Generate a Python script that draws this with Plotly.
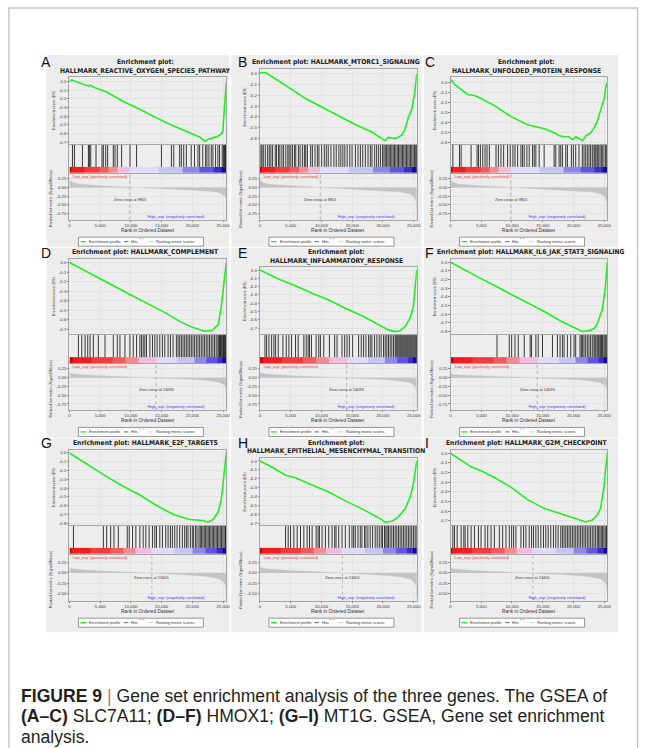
import plotly.graph_objects as go

W, H = 650, 748
N_RANK = 25500

panel_letters = ["A", "B", "C", "D", "E", "F", "G", "H", "I"]
panel_titles = [
    ["Enrichment plot:", "HALLMARK_REACTIVE_OXYGEN_SPECIES_PATHWAY"],
    ["Enrichment plot: HALLMARK_MTORC1_SIGNALING"],
    ["Enrichment plot:", "HALLMARK_UNFOLDED_PROTEIN_RESPONSE"],
    ["Enrichment plot: HALLMARK_COMPLEMENT"],
    ["Enrichment plot:", "HALLMARK_INFLAMMATORY_RESPONSE"],
    ["Enrichment plot: HALLMARK_IL6_JAK_STAT3_SIGNALING"],
    ["Enrichment plot: HALLMARK_E2F_TARGETS"],
    ["Enrichment plot:", "HALLMARK_EPITHELIAL_MESENCHYMAL_TRANSITION"],
    ["Enrichment plot: HALLMARK_G2M_CHECKPOINT"],
]
zero_cross = [9801, 9801, 9801, 14093, 14093, 14093, 13405, 13405, 13405]

x_tick_vals = [0, 5000, 10000, 15000, 20000, 25000]
x_tick_text = ["0", "5,000", "10,000", "15,000", "20,000", "25,000"]
es_tick_vals = [0.0, -0.1, -0.2, -0.3, -0.4, -0.5, -0.6, -0.7, -0.8]
es_tick_text = ["0.0", "-0.1", "-0.2", "-0.3", "-0.4", "-0.5", "-0.6", "-0.7", "-0.8"]
es_tick_count = [8, 7, 7, 8, 8, 9, 9, 8, 8]
rk_tick_vals = [0.25, 0.0, -0.25, -0.5, -0.75]
rk_tick_text = ["0.25", "0.00", "-0.25", "-0.50", "-0.75"]
rk_tick_count = [5, 5, 5, 5, 5, 5, 4, 4, 4]
rk_range_full = [-0.92, 0.39]
rk_range_short = [-0.66, 0.43]

# ---------------- enrichment score curves ----------------
es_x_A = [0, 380, 650, 2270, 3080, 3350, 4160, 6050, 8750, 11450, 14150, 16850, 19550, 21170, 21980, 22790, 23870, 24680, 24950, 25220, 25500]
es_y_A = [0.0, 0.02, 0.01, -0.03, -0.05, -0.04, -0.07, -0.12, -0.23, -0.32, -0.42, -0.51, -0.59, -0.64, -0.69, -0.66, -0.64, -0.61, -0.57, -0.34, 0.0]
es_x_B = [0, 970, 2040, 4730, 7420, 10110, 12800, 15490, 18180, 19800, 20330, 20870, 21950, 22480, 23020, 23560, 24100, 24630, 25170, 25500]
es_y_B = [0.01, 0.01, -0.03, -0.13, -0.23, -0.31, -0.39, -0.47, -0.54, -0.60, -0.62, -0.59, -0.60, -0.59, -0.57, -0.52, -0.41, -0.34, -0.18, 0.0]
es_x_C = [0, 220, 650, 1730, 2810, 3900, 4980, 7140, 9850, 12550, 15260, 16880, 17690, 18500, 19310, 19860, 20400, 20940, 21480, 22020, 22830, 23370, 23910, 24180, 24450, 24990, 25270, 25500]
es_y_C = [0.0, 0.02, -0.02, -0.07, -0.12, -0.13, -0.16, -0.23, -0.34, -0.42, -0.46, -0.50, -0.53, -0.54, -0.54, -0.57, -0.54, -0.56, -0.58, -0.53, -0.50, -0.45, -0.38, -0.32, -0.27, -0.16, -0.04, 0.0]
es_x_D = [0, 2000, 5000, 10000, 15400, 18000, 20000, 22000, 23200, 24200, 24700, 25200, 25500]
es_y_D = [0.0, -0.07, -0.17, -0.34, -0.52, -0.62, -0.68, -0.72, -0.71, -0.65, -0.46, -0.17, 0.0]
es_x_E = [0, 3080, 5780, 8480, 11180, 13880, 16590, 19290, 20900, 21980, 22790, 23600, 24400, 24950, 25220, 25500]
es_y_E = [0.0, -0.11, -0.19, -0.28, -0.36, -0.46, -0.55, -0.66, -0.72, -0.74, -0.73, -0.68, -0.58, -0.44, -0.24, 0.0]
es_x_F = [0, 1730, 4430, 7130, 9830, 12530, 15230, 17930, 20090, 21440, 22520, 23330, 23870, 24680, 25220, 25500]
es_y_F = [0.0, -0.07, -0.17, -0.27, -0.37, -0.47, -0.57, -0.68, -0.75, -0.80, -0.79, -0.77, -0.71, -0.55, -0.27, 0.0]
es_x_G = [0, 650, 3350, 6050, 8750, 11450, 14150, 16850, 19550, 21710, 22520, 23330, 24140, 24680, 25060, 25500]
es_y_G = [0.0, -0.03, -0.15, -0.27, -0.38, -0.48, -0.60, -0.70, -0.76, -0.77, -0.79, -0.76, -0.68, -0.54, -0.30, 0.0]
es_x_H = [0, 2000, 4160, 5780, 8480, 11180, 13880, 16580, 19280, 20360, 21440, 22520, 23600, 24410, 24950, 25500]
es_y_H = [0.0, -0.07, -0.16, -0.19, -0.27, -0.35, -0.45, -0.54, -0.64, -0.69, -0.68, -0.63, -0.54, -0.41, -0.26, 0.0]
es_x_I = [0, 1730, 3350, 4970, 7130, 9830, 12530, 15230, 17930, 20090, 21980, 23060, 23870, 24410, 24950, 25500]
es_y_I = [0.0, -0.07, -0.14, -0.18, -0.25, -0.35, -0.48, -0.57, -0.63, -0.67, -0.71, -0.69, -0.64, -0.57, -0.35, 0.0]

# ---------------- hit positions (rank of each gene-set member) ----------------
hits_A = [490, 810, 2110, 3080, 3240, 3460, 4320, 5290, 5510, 5890, 6210, 7130, 7400, 7780, 8480, 9850, 10910,
          14960, 16580, 16960, 17920, 18200, 18580, 19010, 19800, 20340, 20900, 21170, 21680, 22140, 22360, 22680,
          23060, 23330, 23760, 24140, 24410, 24840, 25060, 25220, 25380, 25460]
hits_B = [160, 320, 540, 860, 1240, 1510, 1780, 2050, 2480, 2700, 3020, 3230, 3560, 3830, 4200, 4530, 4740, 5010,
          5280, 5610, 5820, 6250, 6520, 6900, 7220, 7440, 7710, 8250, 8520, 8950, 9330, 9590, 10030, 10460, 10780,
          11100, 11540, 12020, 12400, 12830, 13150, 13480, 13800, 14180, 14610, 14980, 15520, 15950, 16330, 16710,
          17140, 17570, 17950, 18220, 18650, 18970, 19300, 19620, 19940, 20160, 20370, 20590, 20810, 21020, 21240,
          21450, 21670, 21880, 22100, 22320, 22530, 22750, 22960, 23180, 23390, 23610, 23820, 24040, 24260, 24470,
          24690, 24900, 25120, 25330, 25450]
hits_C = [380, 1460, 1730, 3350, 4320, 4540, 4860, 5240, 5620, 5940, 6320, 7400, 7780, 8210, 8640, 9290, 9720,
          10150, 10480, 10910, 11450, 11720, 11990, 12420, 12800, 13340, 13610, 13880, 14420, 15230, 16850, 17120,
          17660, 17930, 18200, 18740, 19010, 19660, 19980, 20360, 20900, 21440, 21710, 21980, 22250, 22520, 22790,
          23060, 23330, 23490, 23650, 23870, 24030, 24300, 24520, 24680, 24950, 25220, 25420]
hits_D = [1460, 2000, 2540, 2970, 3350, 3890, 4700, 5780, 7130, 7780, 8210, 9020, 9830, 10370, 10910, 11450,
          11720, 11990, 12260, 12530, 13070, 13500, 13880, 14260, 14690, 15120, 15500, 16040, 16420, 16850, 17390,
          17660, 17930, 18200, 18470, 18740, 19010, 19280, 19550, 19820, 20090, 20360, 20630, 20900, 21170, 21440,
          21710, 21980, 22250, 22520, 22790, 23060, 23330, 23600, 23870, 24140, 24300, 24410, 24550, 24680, 24800,
          24950, 25050, 25220, 25350, 25450]
hits_E = [810, 1080, 1460, 1890, 2270, 2540, 2970, 3730, 4270, 4700, 5130, 5780, 6210, 7130, 7510, 7830, 8050,
          8370, 9130, 9560, 9830, 10370, 11290, 12150, 12530, 13340, 13770, 14150, 14530, 15070, 16040, 16470,
          16850, 17230, 17660, 17930, 18200, 18630, 19010, 19390, 19710, 20090, 20360, 20630, 20900, 21170, 21440,
          21710, 21980, 22140, 22300, 22460, 22630, 22790, 22950, 23110, 23270, 23440, 23600, 23760, 23920, 24080,
          24250, 24410, 24570, 24730, 24890, 25060, 25220, 25380, 25470]
hits_F = [7560, 9560, 9940, 10480, 11020, 11990, 12960, 13180, 13880, 14260, 14960, 16580, 17390, 17820, 18200,
          18470, 19010, 19550, 20090, 20360, 21060, 21280, 21490, 21710, 21980, 22250, 22520, 22790, 23060, 23330,
          23490, 23650, 23870, 24030, 24190, 24410, 24570, 24730, 24950, 25110, 25270, 25420]
hits_G = [650, 5510, 6050, 6700, 7240, 7940, 9400, 9720, 10260, 10800, 11450, 11990, 12420, 12960, 13500, 13880,
          14150, 14690, 15120, 15660, 16040, 16420, 16740, 17120, 17500, 17930, 18360, 18740, 19010, 19280, 19660,
          19980, 20200, 20520, 20740, 21060, 21280, 21490, 21710, 21920, 22140, 22360, 22570, 22790, 23000, 23220,
          23440, 23650, 23870, 24080, 24300, 24520, 24730, 24950, 25160, 25380, 25470]
hits_H = [4160, 4590, 4970, 5510, 6050, 6590, 7130, 7670, 8050, 8480, 9130, 9450, 9670, 10100, 10640, 11180,
          11720, 12150, 12370, 12800, 13340, 13880, 14530, 14960, 15230, 15500, 15930, 16310, 16580, 17010, 17230,
          17550, 17930, 18310, 18740, 19060, 19390, 19710, 19930, 20250, 20470, 20680, 20900, 21170, 21440, 21710,
          21980, 22250, 22520, 22790, 23060, 23330, 23600, 23870, 24140, 24410, 24680, 24950, 25220, 25420]
hits_I = [380, 650, 1080, 1730, 2160, 2380, 2810, 3350, 3890, 4540, 4970, 5620, 6050, 6590, 7130, 7940, 8480,
          9020, 9560, 9940, 10260, 10640, 11450, 11880, 12260, 12800, 13180, 13500, 13880, 14260, 14690, 15120,
          15500, 15880, 16310, 16740, 17120, 17500, 17930, 18200, 18470, 18740, 19010, 19280, 19550, 19820, 20090,
          20360, 20630, 20900, 21170, 21440, 21710, 21980, 22250, 22520, 22790, 23060, 23330, 23600, 23870, 24080,
          24300, 24520, 24730, 24950, 25160, 25380, 25460]

# ---------------- ranked list metric (Signal2Noise) ----------------
rk_x_A = [0, 80, 400, 1500, 5000, 9801, 15000, 20000, 23000, 24500, 25200, 25420, 25500]
rk_y_A = [0.30, 0.22, 0.15, 0.10, 0.05, 0.0, -0.04, -0.08, -0.11, -0.16, -0.24, -0.30, -0.38]
rk_x_B = [0, 80, 400, 1500, 5000, 9801, 15000, 20000, 23000, 24500, 25200, 25420, 25500]
rk_y_B = [0.27, 0.20, 0.14, 0.09, 0.05, 0.0, -0.05, -0.09, -0.13, -0.19, -0.28, -0.45, -0.90]
rk_x_C = [0, 80, 400, 1500, 5000, 9801, 15000, 20000, 23000, 24500, 25200, 25420, 25500]
rk_y_C = [0.28, 0.20, 0.14, 0.09, 0.05, 0.0, -0.05, -0.09, -0.13, -0.19, -0.27, -0.42, -0.85]
rk_x_D = [0, 80, 400, 1500, 6000, 14093, 18000, 21000, 23000, 24500, 25200, 25420, 25500]
rk_y_D = [0.16, 0.13, 0.11, 0.09, 0.05, 0.0, -0.03, -0.06, -0.09, -0.14, -0.20, -0.28, -0.45]
rk_x_E = [0, 80, 400, 1500, 6000, 14093, 18000, 21000, 23000, 24500, 25200, 25420, 25500]
rk_y_E = [0.17, 0.14, 0.12, 0.10, 0.05, 0.0, -0.03, -0.06, -0.10, -0.15, -0.22, -0.35, -0.85]
rk_x_F = [0, 80, 400, 1500, 6000, 14093, 18000, 21000, 23000, 24500, 25200, 25420, 25500]
rk_y_F = [0.14, 0.12, 0.10, 0.08, 0.05, 0.0, -0.03, -0.06, -0.10, -0.15, -0.22, -0.35, -0.80]
rk_x_G = [0, 80, 400, 1500, 6000, 13405, 18000, 21000, 23000, 24500, 25200, 25420, 25500]
rk_y_G = [0.15, 0.12, 0.10, 0.08, 0.04, 0.0, -0.04, -0.07, -0.10, -0.15, -0.24, -0.32, -0.55]
rk_x_H = [0, 80, 400, 1500, 6000, 13405, 18000, 21000, 23000, 24500, 25200, 25420, 25500]
rk_y_H = [0.17, 0.13, 0.11, 0.09, 0.05, 0.0, -0.04, -0.07, -0.10, -0.15, -0.24, -0.33, -0.60]
rk_x_I = [0, 80, 400, 1500, 6000, 13405, 18000, 21000, 23000, 24500, 25200, 25420, 25500]
rk_y_I = [0.15, 0.12, 0.10, 0.08, 0.04, 0.0, -0.04, -0.07, -0.10, -0.15, -0.24, -0.32, -0.50]

# colour bar segments (fractions of the positive / negative part of the ranked list)
cb_pos_frac = [0.0, 0.03, 0.25, 0.5, 0.65, 0.8, 1.0]
cb_neg_frac = [0.0, 0.3, 0.55, 0.72, 0.87, 0.95, 1.0]
cb_colors = ["#d00000", "#f01e1e", "#f23c3c", "#f45c5c", "#f58a90", "#f4bcdc",
             "#dedcf8", "#c6c4f2", "#8c88ea", "#5e56de", "#3b2ec8", "#160a8c"]

ES_X = [es_x_A, es_x_B, es_x_C, es_x_D, es_x_E, es_x_F, es_x_G, es_x_H, es_x_I]
ES_Y = [es_y_A, es_y_B, es_y_C, es_y_D, es_y_E, es_y_F, es_y_G, es_y_H, es_y_I]
HITS = [hits_A, hits_B, hits_C, hits_D, hits_E, hits_F, hits_G, hits_H, hits_I]
RK_X = [rk_x_A, rk_x_B, rk_x_C, rk_x_D, rk_x_E, rk_x_F, rk_x_G, rk_x_H, rk_x_I]
RK_Y = [rk_y_A, rk_y_B, rk_y_C, rk_y_D, rk_y_E, rk_y_F, rk_y_G, rk_y_H, rk_y_I]

# ---------------- layout geometry (pixels) ----------------
col_left = [69, 261, 453]
plot_w = 158
row_top = [56, 246.5, 437.5]
letter_x = [38, 237, 425]
title_dx = [-2, -2, -2, -2, -2, 2, -2, -2, -2]
panel_bg = [(46, 230), (232, 424), (426, 622)]
row_bg = [(55, 247), (248, 438), (439, 633)]

GREEN = "#1ff01f"
SMALL = dict(family="Liberation Sans, Arial, sans-serif", size=4.3, color="#333333")
TITLE_FONT = dict(family="Liberation Sans Narrow, DejaVu Sans Condensed, Arial Narrow, sans-serif",
                  size=6.7, color="#1a1a1a")


def X(px):
    return px / W


def Y(py):
    return 1 - py / H


fig = go.Figure()
layout = {}
shapes = []
annotations = []


def axname(i):
    return ("x" if i == 1 else "x%d" % i), ("y" if i == 1 else "y%d" % i)


def lkey(prefix, i):
    return prefix if i == 1 else "%s%d" % (prefix, i)


base_ax = dict(showline=True, mirror=True, linecolor="#a6a6a6", linewidth=0.6, zeroline=False,
               showgrid=False, fixedrange=True, tickfont=SMALL, ticks="")

for r in range(3):
    for c in range(3):
        shapes.append(dict(type="rect", xref="paper", yref="paper", layer="below",
                           x0=X(panel_bg[c][0]), x1=X(panel_bg[c][1]),
                           y0=Y(row_bg[r][1]), y1=Y(row_bg[r][0]),
                           fillcolor="#ededed", line=dict(width=0)))

for p in range(9):
    r, c = divmod(p, 3)
    L = col_left[c]
    R = L + plot_w
    T = row_top[r]
    two = len(panel_titles[p]) == 2
    es_top = T + (21 if two else 13)
    es_bot = T + 88
    hit_top, hit_bot = T + 89, T + 117
    rk_top, rk_bot = T + 118, T + 164
    Z = zero_cross[p]
    short = rk_tick_count[p] == 4
    rk_range = rk_range_short if short else rk_range_full

    i_es, i_hit, i_rk = 3 * p + 1, 3 * p + 2, 3 * p + 3
    xe, ye = axname(i_es)
    xh, yh = axname(i_hit)
    xr, yr = axname(i_rk)

    esy = ES_Y[p]
    es_lo = min(esy) - 0.03
    es_hi = max(max(esy), 0) + 0.035

    layout[lkey("xaxis", i_es)] = dict(base_ax, domain=[X(L), X(R)], range=[0, N_RANK], anchor=ye,
                                       tickvals=x_tick_vals, showticklabels=False, showgrid=True,
                                       gridcolor="#e3e3e3", gridwidth=0.5)
    n_es = es_tick_count[p]
    layout[lkey("yaxis", i_es)] = dict(base_ax, domain=[Y(es_bot), Y(es_top)], range=[es_lo, es_hi], anchor=xe,
                                       tickvals=es_tick_vals[:n_es], ticktext=es_tick_text[:n_es],
                                       showgrid=True, gridcolor="#e3e3e3", gridwidth=0.5,
                                       ticks="outside", ticklen=1.5, tickcolor="#888", tickwidth=0.5)
    layout[lkey("xaxis", i_hit)] = dict(base_ax, domain=[X(L), X(R)], range=[0, N_RANK], anchor=yh,
                                        showticklabels=False)
    layout[lkey("yaxis", i_hit)] = dict(base_ax, domain=[Y(hit_bot), Y(hit_top)], range=[0, 1], anchor=xh,
                                        showticklabels=False)
    n_rk = rk_tick_count[p]
    layout[lkey("xaxis", i_rk)] = dict(base_ax, domain=[X(L), X(R)], range=[0, N_RANK], anchor=yr,
                                       tickvals=x_tick_vals, ticktext=x_tick_text, showgrid=True,
                                       gridcolor="#e3e3e3", gridwidth=0.5, ticks="outside", ticklen=1.5,
                                       tickcolor="#888", tickwidth=0.5)
    layout[lkey("yaxis", i_rk)] = dict(base_ax, domain=[Y(rk_bot), Y(rk_top)], range=rk_range, anchor=xr,
                                       tickvals=rk_tick_vals[:n_rk], ticktext=rk_tick_text[:n_rk],
                                       showgrid=True, gridcolor="#e3e3e3", gridwidth=0.5,
                                       ticks="outside", ticklen=1.5, tickcolor="#888", tickwidth=0.5)

    edges = [f * Z for f in cb_pos_frac] + [Z + f * (N_RANK - Z) for f in cb_neg_frac[1:]]
    ncb = len(cb_colors)
    cscale = []
    for k, col in enumerate(cb_colors):
        cscale += [[k / ncb, col], [(k + 1) / ncb, col]]
    fig.add_trace(go.Heatmap(x=edges, y=[0, 0.21], z=[list(range(ncb))], zmin=-0.5, zmax=ncb - 0.5,
                             colorscale=cscale, showscale=False, xaxis=xh, yaxis=yh, hoverinfo="skip"))
    hx, hy = [], []
    for h in HITS[p]:
        hx += [h, h, None]
        hy += [0.21, 1, None]
    fig.add_trace(go.Scatter(x=hx, y=hy, mode="lines", line=dict(color="#0a0a0a", width=0.8),
                             xaxis=xh, yaxis=yh, showlegend=False, hoverinfo="skip"))
    fig.add_trace(go.Scatter(x=RK_X[p], y=RK_Y[p], mode="lines", fill="tozeroy", fillcolor="#c4c4c4",
                             line=dict(color="#c4c4c4", width=0.3), xaxis=xr, yaxis=yr,
                             showlegend=False, hoverinfo="skip"))
    fig.add_trace(go.Scatter(x=[Z, Z], y=rk_range, mode="lines",
                             line=dict(color="#8a8a8a", width=0.6, dash="dot"),
                             xaxis=xr, yaxis=yr, showlegend=False, hoverinfo="skip"))
    fig.add_trace(go.Scatter(x=ES_X[p], y=esy, mode="lines", line=dict(color=GREEN, width=1.6),
                             xaxis=xe, yaxis=ye, showlegend=False, hoverinfo="skip"))

    annotations.append(dict(text=panel_letters[p], x=X(letter_x[c]), y=Y(T + 6.5), xref="paper", yref="paper",
                            xanchor="left", yanchor="middle", showarrow=False,
                            font=dict(family="Liberation Sans, Arial, sans-serif", size=14, color="#111")))
    for k, line in enumerate(panel_titles[p]):
        annotations.append(dict(text="<b>%s</b>" % line, x=X((L + R) / 2 + title_dx[p]), y=Y(T + 6 + 8.6 * k),
                                xref="paper", yref="paper", xanchor="center", yanchor="middle", showarrow=False,
                                font=TITLE_FONT))
    annotations.append(dict(text="Enrichment score (ES)", x=X(L - 16), y=Y((es_top + es_bot) / 2),
                            xref="paper", yref="paper", textangle=-90, showarrow=False,
                            xanchor="center", yanchor="middle", font=dict(SMALL, size=3.9)))
    annotations.append(dict(text="Ranked list metric (Signal2Noise)", x=X(L - 19), y=Y((rk_top + rk_bot) / 2 + 2),
                            xref="paper", yref="paper", textangle=-90, showarrow=False,
                            xanchor="center", yanchor="middle", font=dict(SMALL, size=3.9)))
    annotations.append(dict(text="Rank in Ordered Dataset", x=X((L + R) / 2), y=Y(T + 175),
                            xref="paper", yref="paper", showarrow=False, xanchor="center", yanchor="middle",
                            font=dict(SMALL, size=4.8)))
    annotations.append(dict(text="Zero cross at %d" % Z, x=Z, y=(-0.12 if short else -0.33),
                            xref=xr, yref=yr, showarrow=False, xanchor="center", yanchor="middle",
                            font=dict(SMALL, size=3.9)))
    annotations.append(dict(text="'Low_exp' (positively correlated)", x=X(L + 1), y=Y(rk_top + 2.6),
                            xref="paper", yref="paper", showarrow=False, xanchor="left", yanchor="middle",
                            font=dict(SMALL, size=3.9, color="#f03030")))
    annotations.append(dict(text="'High_exp' (negatively correlated)", x=17300, y=Y(rk_bot - 3),
                            xref=xr, yref="paper", showarrow=False, xanchor="center", yanchor="middle",
                            font=dict(SMALL, size=3.9, color="#3a3aff")))

    # ---- legend box ----
    lx = L + 9
    ly = T + 186
    shapes.append(dict(type="rect", xref="paper", yref="paper", x0=X(lx), x1=X(lx + 126),
                       y0=Y(T + 190.5), y1=Y(T + 181.5), fillcolor="white", line=dict(color="#555", width=0.6)))
    shapes.append(dict(type="line", xref="paper", yref="paper", x0=X(lx + 2), x1=X(lx + 8), y0=Y(ly), y1=Y(ly),
                       line=dict(color=GREEN, width=1.3)))
    shapes.append(dict(type="line", xref="paper", yref="paper", x0=X(lx + 46), x1=X(lx + 50.5), y0=Y(ly), y1=Y(ly),
                       line=dict(color="#222", width=0.7)))
    shapes.append(dict(type="line", xref="paper", yref="paper", x0=X(lx + 61), x1=X(lx + 63),
                       y0=Y(T + 183), y1=Y(T + 183), line=dict(color="#999", width=0.6)))
    shapes.append(dict(type="line", xref="paper", yref="paper", x0=X(lx + 64), x1=X(lx + 66),
                       y0=Y(T + 183), y1=Y(T + 183), line=dict(color="#999", width=0.6)))
    shapes.append(dict(type="line", xref="paper", yref="paper", x0=X(lx + 70), x1=X(lx + 75), y0=Y(ly), y1=Y(ly),
                       line=dict(color="#bdbdbd", width=0.7)))
    for txt, off in [("Enrichment profile", 9), ("Hits", 51), ("Ranking metric scores", 76)]:
        annotations.append(dict(text=txt, x=X(lx + off), y=Y(ly), xref="paper", yref="paper", showarrow=False,
                                xanchor="left", yanchor="middle", font=dict(SMALL, size=3.9)))

shapes.append(dict(type="rect", xref="paper", yref="paper", x0=X(8), x1=X(641.5), y0=Y(775), y1=Y(8),
                   line=dict(color="#c6c6c6", width=1.5), fillcolor="rgba(0,0,0,0)", layer="below"))

CAP = dict(family="Liberation Sans, Arial, sans-serif", size=17.6, color="#231f20")
caption_lines = [
    "<b>FIGURE 9</b> <span style='color:#888'>|</span> Gene set enrichment analysis of the three genes. The GSEA of",
    "<b>(A–C)</b> SLC7A11; <b>(D–F)</b> HMOX1; <b>(G–I)</b> MT1G. GSEA, Gene set enrichment",
    "analysis.",
]
for k, line in enumerate(caption_lines):
    annotations.append(dict(text=line, x=X(20), y=Y(697 + 20.4 * k), xref="paper", yref="paper",
                            showarrow=False, xanchor="left", yanchor="middle", font=CAP,
                            borderpad=0, borderwidth=0))

layout.update(dict(width=W, height=H, margin=dict(l=0, r=0, t=0, b=0), paper_bgcolor="white",
                   plot_bgcolor="white", showlegend=False, shapes=shapes, annotations=annotations))
fig.update_layout(**layout)
fig.write_html("out.html")
